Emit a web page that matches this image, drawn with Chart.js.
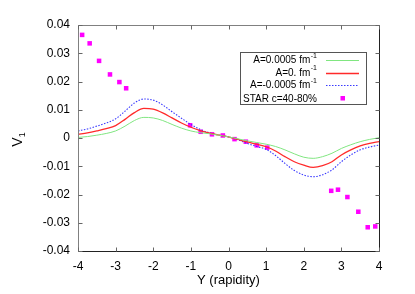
<!DOCTYPE html>
<html><head><meta charset="utf-8">
<script src="https://cdn.jsdelivr.net/npm/chart.js@4"></script>
<style>html,body{margin:0;padding:0;background:#fff}canvas{display:block}</style>
</head><body>
<canvas id="c" width="415" height="294"></canvas>
<script>
const rapidity=[-4,-3.75,-3.5,-3.25,-3,-2.75,-2.5,-2.25,-2,-1.75,-1.5,-1.25,-1,-0.75,-0.5,-0.25,0,0.25,0.5,0.75,1,1.25,1.5,1.75,2,2.25,2.5,2.75,3,3.25,3.5,3.75,4];
const v1Plus=[0.0002,0.0005,0.0010,0.0016,0.0025,0.0042,0.0062,0.0073,0.0071,0.0062,0.0048,0.0035,0.0025,0.0019,0.0015,0.0010,0.0004,-0.0003,-0.0010,-0.0016,-0.0022,-0.0030,-0.0042,-0.0056,-0.0068,-0.0072,-0.0066,-0.0054,-0.0037,-0.0024,-0.0013,-0.0005,0.0001];
const v1Zero=[0.0013,0.0018,0.0025,0.0033,0.0044,0.0066,0.0090,0.0105,0.0102,0.0089,0.0071,0.0053,0.0038,0.0026,0.0017,0.0010,0.0004,-0.0005,-0.0014,-0.0022,-0.0031,-0.0046,-0.0066,-0.0084,-0.0096,-0.0104,-0.0098,-0.0084,-0.0060,-0.0042,-0.0028,-0.0019,-0.0013];
const v1Minus=[0.0025,0.0032,0.0042,0.0053,0.0068,0.0095,0.0124,0.0138,0.0134,0.0117,0.0093,0.0070,0.0048,0.0030,0.0018,0.0010,0.0004,-0.0006,-0.0019,-0.0030,-0.0040,-0.0062,-0.0090,-0.0115,-0.0131,-0.0137,-0.0130,-0.0113,-0.0084,-0.0060,-0.0042,-0.0032,-0.0025];
const starY=[-3.89,-3.69,-3.44,-3.15,-2.90,-2.72,-1.02,-0.74,-0.44,-0.15,0.16,0.46,0.75,1.03,2.73,2.91,3.16,3.45,3.70,3.90];
const starV1=[0.0365,0.0335,0.0273,0.0225,0.0198,0.0176,0.0045,0.0022,0.0013,0.0009,-0.0004,-0.0013,-0.0026,-0.0034,-0.0187,-0.0183,-0.0209,-0.0261,-0.0316,-0.0313];
const xTicks=[-4,-3,-2,-1,0,1,2,3,4];
const xTickLabels=['-4','-3','-2','-1','0','1','2','3','4'];
const yTicks=[-0.04,-0.03,-0.02,-0.01,0,0.01,0.02,0.03,0.04];
const yTickLabels=['-0.04','-0.03','-0.02','-0.01','0','0.01','0.02','0.03','0.04'];
const legendBase=['A=0.0005 fm','A=0. fm','A=-0.0005 fm','STAR c=40-80%'];
const legendSup=['-1','-1','-1',''];

const FONT='"Liberation Sans", Arial, sans-serif';
const pts=(xs,ys)=>xs.map((x,i)=>({x:x,y:ys[i]}));

const framePlugin={
  id:'frame',
  afterDraw(chart){
    const ctx=chart.ctx, a=chart.chartArea, xs=chart.scales.x, ys=chart.scales.y;
    ctx.save();
    ctx.lineWidth=1;
    const L=Math.round(a.left)+0.5,R=Math.round(a.right)+0.5,T=Math.round(a.top)+0.5,B=Math.round(a.bottom)+0.5;
    ctx.strokeStyle='#808080';
    ctx.beginPath();ctx.moveTo(L,B);ctx.lineTo(L,T);ctx.lineTo(R,T);ctx.stroke();
    ctx.strokeStyle='#222';
    ctx.beginPath();ctx.moveTo(L,B);ctx.lineTo(R,B);ctx.lineTo(R,T);ctx.stroke();
    ctx.strokeStyle='#666';
    ctx.beginPath();
    yTicks.forEach(v=>{const y=Math.round(ys.getPixelForValue(v))+0.5;
      ctx.moveTo(L,y);ctx.lineTo(L+4,y);ctx.moveTo(R,y);ctx.lineTo(R-4,y);});
    xTicks.forEach(v=>{const x=Math.round(xs.getPixelForValue(v))+0.5;
      ctx.moveTo(x,B);ctx.lineTo(x,B-4);ctx.moveTo(x,T);ctx.lineTo(x,T+4);});
    ctx.stroke();
    ctx.fillStyle='#000';
    ctx.font='13px '+FONT;
    ctx.textAlign='center';ctx.textBaseline='middle';
    ctx.fillText('Y (rapidity)',(a.left+a.right)/2,280);
    ctx.save();
    ctx.translate(17,140);ctx.rotate(-Math.PI/2);
    ctx.font='14px '+FONT;ctx.textAlign='left';ctx.textBaseline='alphabetic';
    const vw=ctx.measureText('V').width;
    ctx.fillText('V',-vw/2-2,5);
    ctx.font='9px '+FONT;
    ctx.fillText('1',vw/2-2,8);
    ctx.restore();
    ctx.strokeStyle='#555';
    ctx.strokeRect(240.5,52.5,126,52);
    const rows=[60,72.5,85,98.5];
    const ds=chart.data.datasets;
    rows.forEach((ry,i)=>{
      ctx.textBaseline='middle';ctx.textAlign='right';
      let xr=317;
      if(legendSup[i]){
        ctx.font='7px '+FONT;
        const sw=ctx.measureText(legendSup[i]).width;
        ctx.fillText(legendSup[i],xr,ry-4);
        xr-=sw+0.5;
      }
      ctx.font='10px '+FONT;
      ctx.fillText(legendBase[i],xr,ry+0.5);
      const d=ds[i];
      if(i<3){
        ctx.save();
        ctx.strokeStyle=d.borderColor;ctx.lineWidth=d.borderWidth;
        ctx.setLineDash(d.borderDash||[]);
        ctx.beginPath();ctx.moveTo(326,Math.round(ry)+0.5);ctx.lineTo(359,Math.round(ry)+0.5);ctx.stroke();
        ctx.restore();
      } else {
        ctx.fillStyle=d.backgroundColor;
        ctx.fillRect(340.5,96,4.5,4.5);
        ctx.fillStyle='#000';
      }
    });
    ctx.restore();
  }
};

new Chart(document.getElementById('c'),{
  type:'line',
  data:{datasets:[
    {label:legendBase[0],data:pts(rapidity,v1Plus),borderColor:'#80e680',borderWidth:1,pointRadius:0,cubicInterpolationMode:'monotone',fill:false},
    {label:legendBase[1],data:pts(rapidity,v1Zero),borderColor:'#ff2a2a',borderWidth:1.3,pointRadius:0,cubicInterpolationMode:'monotone',fill:false},
    {label:legendBase[2],data:pts(rapidity,v1Minus),borderColor:'#3a3aff',borderWidth:1.1,borderDash:[1.5,1.5],pointRadius:0,cubicInterpolationMode:'monotone',fill:false},
    {label:legendBase[3],type:'scatter',data:pts(starY,starV1),showLine:false,pointStyle:'rect',pointRadius:3.2,pointHoverRadius:3.2,backgroundColor:'#ff00ff',borderColor:'#ff00ff',borderWidth:0}
  ]},
  options:{
    responsive:false,animation:false,devicePixelRatio:1,
    layout:{padding:{left:0,top:25,right:36,bottom:0}},
    plugins:{legend:{display:false},tooltip:{enabled:false}},
    scales:{
      x:{type:'linear',min:-4,max:4,
        afterBuildTicks:s=>{s.ticks=xTicks.map(v=>({value:v}));},
        afterFit:s=>{s.height=43;},
        grid:{display:false,drawTicks:false},border:{display:false},
        ticks:{padding:8,color:'#000',font:{family:FONT,size:12},maxRotation:0,autoSkip:false,
          callback:(v)=>{const i=xTicks.indexOf(v);return i>=0?xTickLabels[i]:'';}}},
      y:{type:'linear',min:-0.04,max:0.04,
        afterBuildTicks:s=>{s.ticks=yTicks.map(v=>({value:v}));},
        afterFit:s=>{s.width=78;},
        grid:{display:false,drawTicks:false},border:{display:false},
        ticks:{padding:8,color:'#000',font:{family:FONT,size:12},autoSkip:false,
          callback:(v)=>{const i=yTicks.findIndex(t=>Math.abs(t-v)<1e-9);return i>=0?yTickLabels[i]:'';}}}
    }
  },
  plugins:[framePlugin]
});
</script>
</body></html>
